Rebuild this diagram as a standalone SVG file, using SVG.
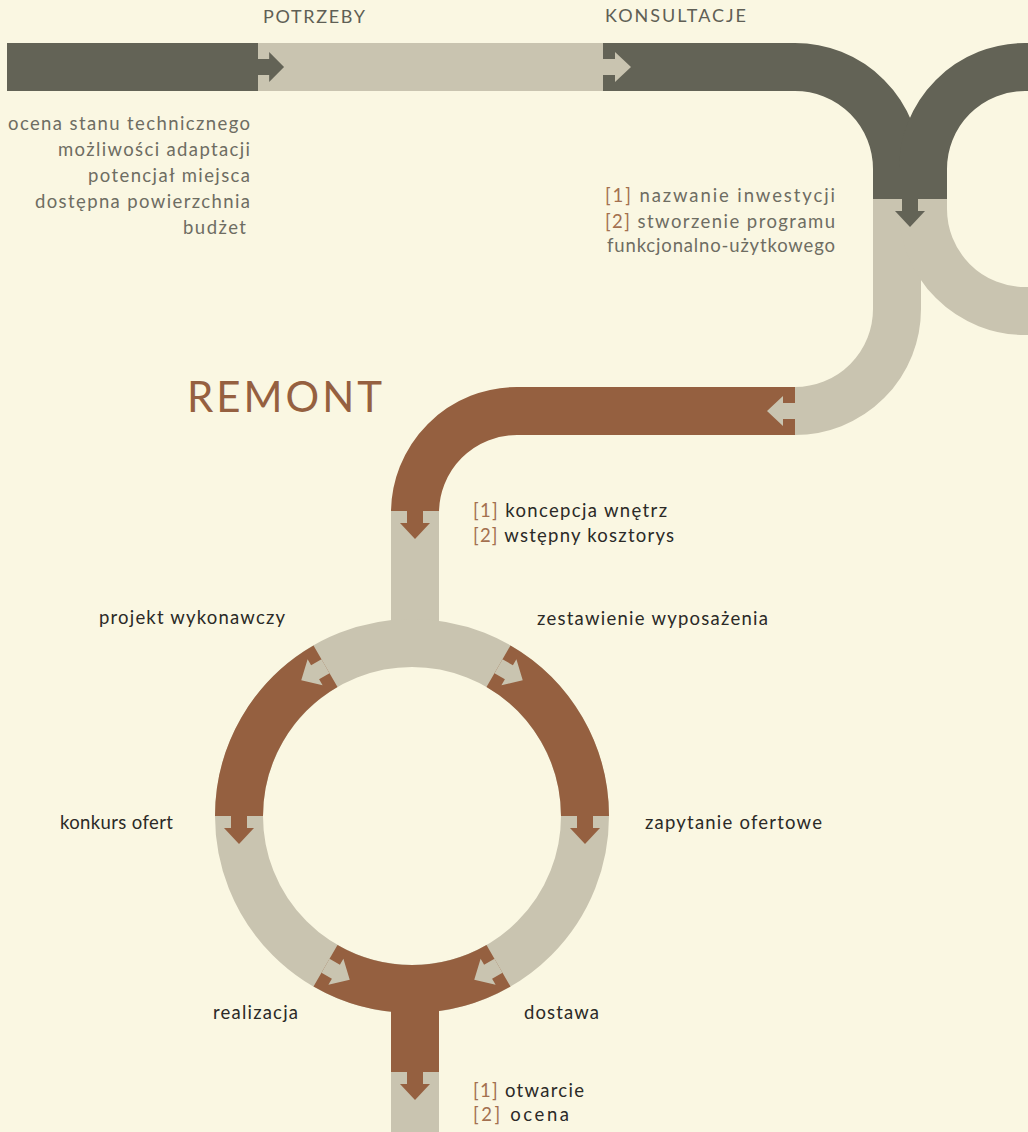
<svg xmlns="http://www.w3.org/2000/svg" width="1028" height="1132" viewBox="0 0 1028 1132">
<defs>
<style>
.bg{fill:#FAF7E2}
.dk{fill:#636356}
.bg2{fill:#C9C4B0}
.br{fill:#956040}
.sdk{fill:none;stroke:#636356;stroke-width:48}
.sbe{fill:none;stroke:#C9C4B0;stroke-width:48}
.sbr{fill:none;stroke:#956040;stroke-width:48}
text{font-family:Lato,"Open Sans","DejaVu Sans",sans-serif;font-weight:400}
.hd{font-size:18px;fill:#5f5f55}
.ls{font-size:18.5px;fill:#6e6d62}
.lb{font-size:18.5px;fill:#2b2a27}
.bk{fill:#A3704F}
.rm{font-size:42px;fill:#956040}
</style>
<polygon id="arr" points="0,-8 12,-8 12,-15 28,0 12,15 12,8 0,8"/>
</defs>
<rect class="bg" x="0" y="0" width="1028" height="1132"/>

<g id="connectors">
  <rect class="dk" x="7" y="43" width="251" height="48"/>
  <rect class="bg2" x="258" y="43" width="345" height="48"/>
  <path class="sbe" d="M897,169 V309 A102,102 0 0 1 795,411"/>
  <path class="sbe" d="M923,169 V209 A102,102 0 0 0 1025,311 H1030"/>
  <path class="sdk" d="M603,67 H795 A102,102 0 0 1 897,169 V199"/>
  <path class="sdk" d="M1030,67 H1025 A102,102 0 0 0 923,169 V199"/>
  <path class="sbr" d="M795,411 H517 A102,102 0 0 0 415,513"/>
  <rect class="bg2" x="391" y="511" width="48" height="134"/>
  <circle class="sbe" cx="412" cy="816" r="173"/>
  <path class="sbr" d="M498.5,666.2 A173,173 0 0 1 585,816"/>
  <path class="sbr" d="M325.5,666.2 A173,173 0 0 0 239,816"/>
  <path class="sbr" d="M325.5,965.8 A173,173 0 0 0 498.5,965.8"/>
  <rect class="br" x="391" y="985" width="48" height="87"/>
  <rect class="bg2" x="391" y="1072" width="48" height="60"/>
  <use href="#arr" class="dk" transform="translate(258,67) scale(0.93,1)"/>
  <use href="#arr" class="bg2" transform="translate(603,67)"/>
  <use href="#arr" class="dk" transform="translate(910,199) rotate(90)"/>
  <use href="#arr" class="bg2" transform="translate(795,411) rotate(180)"/>
  <use href="#arr" class="br" transform="translate(415,511) rotate(90)"/>
  <use href="#arr" class="bg2" transform="translate(325.5,666.2) rotate(150)"/>
  <use href="#arr" class="bg2" transform="translate(498.5,666.2) rotate(30)"/>
  <use href="#arr" class="br" transform="translate(239,816) rotate(90)"/>
  <use href="#arr" class="br" transform="translate(585,816) rotate(90)"/>
  <use href="#arr" class="bg2" transform="translate(325.5,965.8) rotate(30)"/>
  <use href="#arr" class="bg2" transform="translate(498.5,965.8) rotate(150)"/>
  <use href="#arr" class="br" transform="translate(415,1072) rotate(90)"/>
</g>

<g id="potrzeby">
  <text class="hd" x="263" y="22.5" textLength="102">POTRZEBY</text>
  <text class="ls" x="8" y="130" textLength="242">ocena stanu technicznego</text>
  <text class="ls" x="58" y="156" textLength="192">możliwości adaptacji</text>
  <text class="ls" x="88" y="182" textLength="162">potencjał miejsca</text>
  <text class="ls" x="35" y="208" textLength="215">dostępna powierzchnia</text>
  <text class="ls" x="183" y="234" textLength="63">budżet</text>
</g>

<g id="konsultacje">
  <text class="hd" x="605" y="21.7" textLength="141">KONSULTACJE</text>
  <text class="ls" x="605" y="201.5" textLength="230"><tspan class="bk">[1]</tspan> nazwanie inwestycji</text>
  <text class="ls" x="605" y="227.5" textLength="230"><tspan class="bk">[2]</tspan> stworzenie programu</text>
  <text class="ls" x="607" y="251.5" textLength="228">funkcjonalno-użytkowego</text>
</g>

<g id="remont">
  <text class="rm" x="187" y="412" textLength="195">REMONT</text>
  <text class="lb" x="473" y="517" textLength="194"><tspan class="bk">[1]</tspan> koncepcja wnętrz</text>
  <text class="lb" x="473" y="542" textLength="201"><tspan class="bk">[2]</tspan> wstępny kosztorys</text>
</g>

<g id="projekt-wykonawczy"><text class="lb" x="99" y="624" textLength="186">projekt wykonawczy</text></g>
<g id="zestawienie-wyposazenia"><text class="lb" x="537" y="625" textLength="231">zestawienie wyposażenia</text></g>
<g id="konkurs-ofert"><text class="lb" x="60" y="829" textLength="113">konkurs ofert</text></g>
<g id="zapytanie-ofertowe"><text class="lb" x="645" y="829" textLength="177">zapytanie ofertowe</text></g>
<g id="realizacja"><text class="lb" x="213" y="1019" textLength="85">realizacja</text></g>
<g id="dostawa"><text class="lb" x="524" y="1019" textLength="75">dostawa</text></g>
<g id="otwarcie">
  <text class="lb" x="473" y="1097" textLength="111"><tspan class="bk">[1]</tspan> otwarcie</text>
  <text class="lb" x="473" y="1121" textLength="96"><tspan class="bk">[2]</tspan> ocena</text>
</g>
</svg>
